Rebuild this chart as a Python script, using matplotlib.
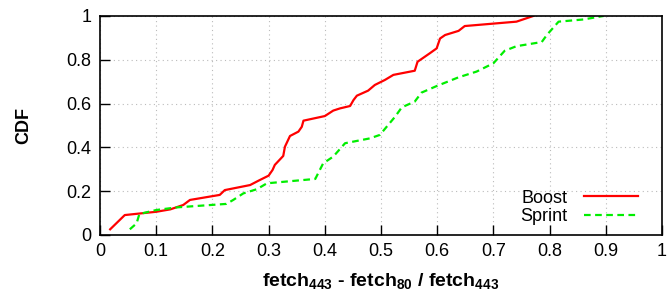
import matplotlib
matplotlib.use("Agg")
import matplotlib.pyplot as plt

plt.rcParams['font.family'] = ['Liberation Sans', 'DejaVu Sans']
plt.rcParams['mathtext.fontset'] = 'custom'
plt.rcParams['mathtext.rm'] = 'Liberation Sans'
plt.rcParams['mathtext.bf'] = 'Liberation Sans:bold'

boost_x = [0.018, 0.044, 0.10, 0.125, 0.148, 0.16, 0.213, 0.222, 0.267, 0.282, 0.30, 0.307,
           0.311, 0.326, 0.329, 0.338, 0.353, 0.359, 0.362, 0.40, 0.415, 0.427, 0.445, 0.451,
           0.457, 0.477, 0.489, 0.507, 0.522, 0.56, 0.565, 0.587, 0.599, 0.605, 0.614, 0.638,
           0.649, 0.741, 0.771]
boost_y = [0.026, 0.091, 0.106, 0.117, 0.137, 0.16, 0.183, 0.205, 0.228, 0.248, 0.271, 0.297,
           0.32, 0.361, 0.403, 0.452, 0.472, 0.494, 0.522, 0.543, 0.568, 0.578, 0.589, 0.616,
           0.636, 0.659, 0.685, 0.708, 0.731, 0.75, 0.791, 0.83, 0.852, 0.897, 0.913, 0.932,
           0.954, 0.974, 1.0]

sprint_x = [0.053, 0.065, 0.07, 0.10, 0.136, 0.225, 0.237, 0.255, 0.279, 0.297, 0.383, 0.397,
            0.415, 0.424, 0.436, 0.48, 0.498, 0.51, 0.525, 0.537, 0.56, 0.572, 0.599, 0.638,
            0.67, 0.70, 0.72, 0.741, 0.786, 0.795, 0.816, 0.86, 0.896]
sprint_y = [0.026, 0.053, 0.096, 0.114, 0.126, 0.142, 0.16, 0.19, 0.209, 0.236, 0.256, 0.327,
            0.358, 0.384, 0.419, 0.441, 0.457, 0.494, 0.54, 0.583, 0.609, 0.65, 0.68, 0.72,
            0.746, 0.784, 0.841, 0.862, 0.881, 0.913, 0.974, 0.984, 1.0]

x_ticks = [0, 0.1, 0.2, 0.3, 0.4, 0.5, 0.6, 0.7, 0.8, 0.9, 1]
x_labels = ["0", "0.1", "0.2", "0.3", "0.4", "0.5", "0.6", "0.7", "0.8", "0.9", "1"]
y_ticks = [0, 0.2, 0.4, 0.6, 0.8, 1]
y_labels = ["0", "0.2", "0.4", "0.6", "0.8", "1"]

fig = plt.figure(figsize=(6.67, 2.94), dpi=100)
ax = fig.add_axes([0.15, 0.2007, 0.8425, 0.745])

ax.plot(boost_x, boost_y, color='#ff0000', lw=1.6, label='Boost')
ax.plot(sprint_x, sprint_y, color='#00ee00', lw=1.6, ls=(0, (3, 2)), label='Sprint')

ax.set_xlim(0, 1)
ax.set_ylim(0, 1)
ax.set_xticks(x_ticks)
ax.set_xticklabels(x_labels)
ax.set_yticks(y_ticks)
ax.set_yticklabels(y_labels)
ax.tick_params(direction='in', length=7, width=1, labelsize=13, top=False, right=False, pad=6)
ax.grid(True, color='#bbbbbb', ls=(0, (1, 3)), lw=0.8)
for s in ax.spines.values():
    s.set_linewidth(1.2)

ax.set_xlabel(r'$\mathbf{fetch_{443}}$ - $\mathbf{fetch_{80}}$ / $\mathbf{fetch_{443}}$',
              fontsize=14, fontweight='bold', labelpad=8)
ax.set_ylabel('CDF', fontsize=13, fontweight='bold', labelpad=25)

ax.legend(loc='lower right', bbox_to_anchor=(0.980, -0.014), markerfirst=False, frameon=False,
          fontsize=13, handlelength=3.0, labelspacing=0.1, borderaxespad=0.3, handletextpad=0.9)

fig.savefig('out.png', dpi=100)
